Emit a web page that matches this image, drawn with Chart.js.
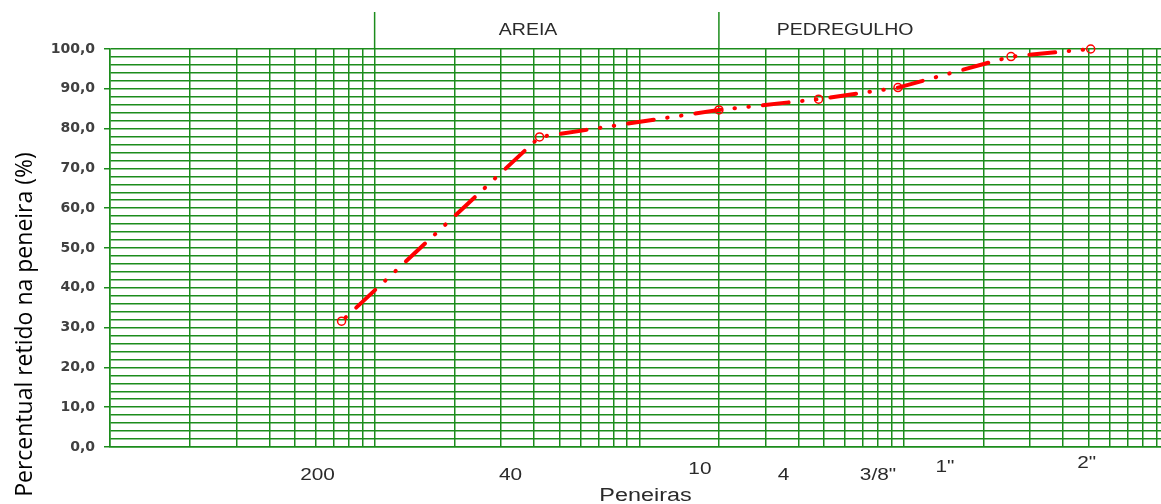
<!DOCTYPE html>
<html>
<head>
<meta charset="utf-8">
<script src="https://cdn.jsdelivr.net/npm/chart.js@4.4.1/dist/chart.umd.min.js"></script>
<style>
  html, body { margin: 0; padding: 0; background: #fff; overflow: hidden; }
  #wrap { width: 1174px; height: 504px; }
</style>
</head>
<body>
<div id="wrap"><canvas id="curva"></canvas></div>
<script>
// Curva granulometrica - percentual retido por peneira
var peneiras = ['200', '40', '10', '4', '3/8"', '1"', '2"'];
var aberturas = [0.075, 0.42, 2.0, 4.76, 9.5, 25.4, 50.8];   // mm
var retido = [31.6, 77.9, 84.7, 87.4, 90.3, 98.1, 100.0];    // %
var limitesFaixas = [0.1, 2.0];          // mm
var faixas = ['AREIA', 'PEDREGULHO'];
var faixasEm = [0.38, 6.0];              // mm (centro do nome)

// posicao dos rotulos das peneiras (deslocamento em px a partir da abertura)
var rotuloDx = [-24, -29, -19, -35, -20, -66, -4];
var rotuloY = [480, 480, 474, 480, 480, 472, 468];

var verde = '#1c8c1c';

var pontos = aberturas.map(function (a, i) { return { x: a, y: retido[i] }; });

function texto(ctx, t, px, py, font, sx) {
    ctx.save();
    ctx.translate(px, py);
    ctx.scale(sx, 1);
    ctx.font = font;
    ctx.textAlign = 'center';
    ctx.textBaseline = 'alphabetic';
    ctx.fillText(t, 0, 0);
    ctx.restore();
}

var extras = {
    id: 'extras',
    afterDraw: function (chart) {
        var ctx = chart.ctx, x = chart.scales.x, area = chart.chartArea;
        ctx.save();
        // linhas que separam areia / pedregulho
        ctx.strokeStyle = verde;
        ctx.lineWidth = 1.5;
        limitesFaixas.forEach(function (v) {
            var px = x.getPixelForValue(v);
            ctx.beginPath();
            ctx.moveTo(px, 12);
            ctx.lineTo(px, area.top);
            ctx.stroke();
        });
        ctx.fillStyle = '#2a2a2a';
        faixas.forEach(function (f, i) {
            texto(ctx, f, x.getPixelForValue(faixasEm[i]), 35, '16px "Liberation Sans", Arial', 1.22);
        });
        peneiras.forEach(function (p, i) {
            texto(ctx, p, x.getPixelForValue(aberturas[i]) + rotuloDx[i], rotuloY[i], '16px "Liberation Sans", Arial', 1.3);
        });
        texto(ctx, 'Peneiras', (area.left + 1161) / 2 + 10, 501, '18px "Liberation Sans", Arial', 1.3);
        // titulo do eixo y
        ctx.fillStyle = '#000';
        ctx.translate(25.5, 324.5);
        ctx.rotate(-Math.PI / 2);
        ctx.font = '23px "Open Sans"';
        ctx.textAlign = 'center';
        ctx.textBaseline = 'middle';
        ctx.fillText('Percentual retido na peneira (%)', 0, 0);
        ctx.restore();
    }
};

var ctx = document.getElementById('curva').getContext('2d');
var grafico = new Chart(ctx, {
    type: 'line',
    data: {
        datasets: [{
            data: pontos,
            borderColor: '#ff0000',
            borderWidth: 4,
            borderDash: [26, 13.5, 0.5, 13.5, 0.5, 14],
            borderDashOffset: 48,
            borderCapStyle: 'round',
            tension: 0,
            pointStyle: 'circle',
            pointRadius: 4,
            pointBorderWidth: 1.5,
            pointBorderColor: '#ff0000',
            pointBackgroundColor: 'rgba(255,255,255,0)',
            clip: 10
        }]
    },
    options: {
        responsive: true,
        maintainAspectRatio: false,
        animation: false,
        layout: { padding: { top: 49, bottom: 57, left: 0, right: 2 } },
        plugins: { legend: { display: false }, tooltip: { enabled: false } },
        scales: {
            x: {
                type: 'logarithmic',
                min: 0.01,
                max: 100,
                afterBuildTicks: function (scale) {
                    var t = [];
                    for (var e = -2; e <= 1; e++) {
                        for (var s = 1; s <= 9; s++) t.push({ value: s * Math.pow(10, e) });
                    }
                    t.push({ value: 100 });
                    scale.ticks = t;
                },
                ticks: { display: false },
                grid: { color: verde, lineWidth: 1.5, drawTicks: false },
                border: { color: verde, width: 1.5 }
            },
            y: {
                min: 0,
                max: 100,
                afterFit: function (scale) { scale.width = 110; },
                ticks: {
                    stepSize: 2,
                    autoSkip: false,
                    padding: 9,
                    color: '#404040',
                    font: { family: '"DejaVu Sans"', size: 14, weight: 'bold' },
                    callback: function (v) {
                        return v % 10 === 0 ? v.toFixed(1).replace('.', ',') : '';
                    }
                },
                grid: {
                    color: verde,
                    lineWidth: 1.5,
                    tickLength: 6,
                    tickColor: function (c) {
                        return c.tick && c.tick.value % 10 === 0 ? verde : 'rgba(0,0,0,0)';
                    }
                },
                border: { color: verde, width: 1.5 }
            }
        }
    },
    plugins: [extras]
});
</script>
</body>
</html>
